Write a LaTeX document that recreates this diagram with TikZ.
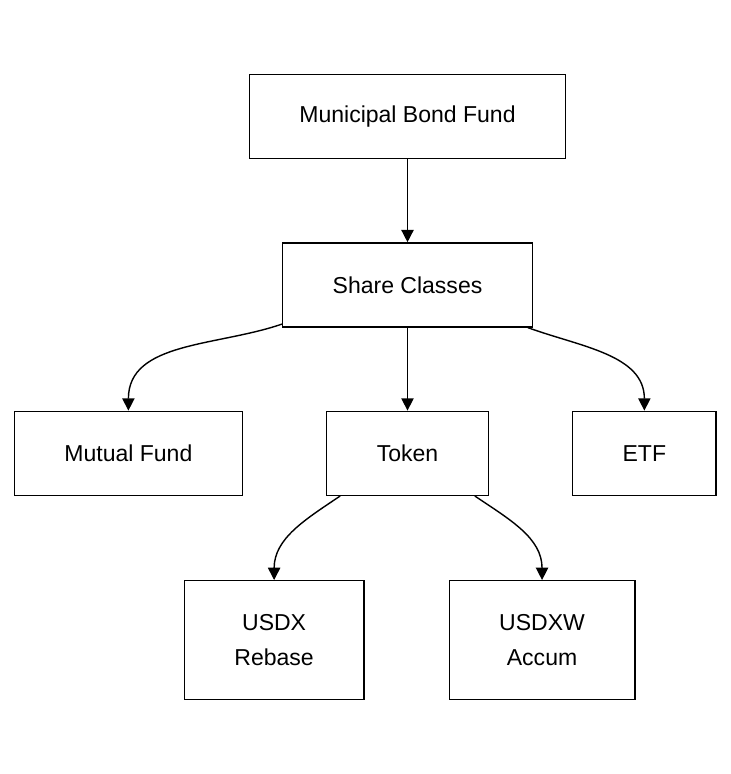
\documentclass[tikz,border=0pt]{standalone}
\usepackage{fontspec}
\setmainfont{Liberation Sans}
\usetikzlibrary{arrows.meta,positioning}

\begin{document}
\begin{tikzpicture}[
    node distance=1.66cm,
    box/.style={draw, line width=0.8pt, inner xsep=1cm, minimum height=1.68cm, align=center,
        font=\fontsize{13.1}{20}\selectfont},
    tallbox/.style={box, minimum height=2.38cm},
    arrow/.style={line width=0.8pt, -{Triangle[length=7pt, width=7pt]}}
]
\useasboundingbox (0,0) rectangle (14.6,-15.48);

\node (fund) [box] at (8.15,-2.33) {Municipal Bond Fund};
\node (classes) [box, below=of fund] {Share Classes};
\node (token) [box, below=of classes] {Token};
\node (mutual) [box, left=of token] {Mutual Fund};
\node (etf) [box, right=of token] {ETF};
\node (usdx) [tallbox, below left=1.68cm and 0.86cm of token.south, anchor=north east] {USDX\\Rebase};
\node (usdxw) [tallbox, below right=1.68cm and 0.82cm of token.south, anchor=north west] {USDXW\\Accum};

\draw [arrow] (fund) -- (classes);
\draw [arrow] (classes) -- (token);
\draw [arrow] ([yshift=2pt]classes.south west) to[out=199, in=90] (mutual.north);
\draw [arrow] ([xshift=-3pt]classes.south east) to[out=-20, in=90] (etf.north);
\draw [arrow] ([xshift=8pt]token.south west) to[out=214, in=90] (usdx.north);
\draw [arrow] ([xshift=-8pt]token.south east) to[out=-34, in=90] (usdxw.north);

\end{tikzpicture}
\end{document}
